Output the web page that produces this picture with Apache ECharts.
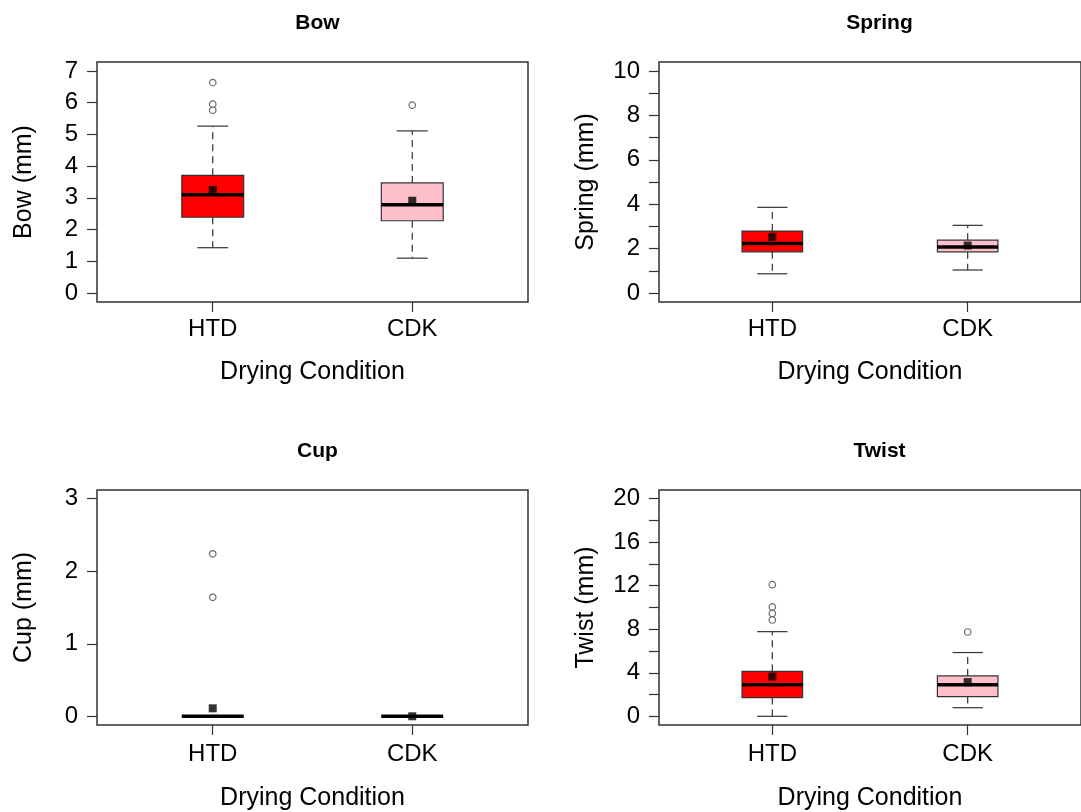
<!DOCTYPE html>
<html>
<head>
<meta charset="utf-8">
<title>Drying condition boxplots</title>
<script src="https://cdn.jsdelivr.net/npm/echarts@6/dist/echarts.min.js"></script>
<style>
  html, body { margin: 0; padding: 0; background: #fff; }
  #chart { width: 1081px; height: 812px; }
</style>
</head>
<body>
<div id="chart"></div>
<script>
// groups on the x axis (positions 1 and 2)
const groups = ['HTD', 'CDK'];
const boxFills = ['#ff0000', '#ffc0cb'];

// box stats per group: [lower whisker, Q1, median, Q3, upper whisker]
const bowStats = [[1.43, 2.39, 3.10, 3.71, 5.26], [1.10, 2.28, 2.78, 3.47, 5.11]];
const bowMeans = [3.25, 2.91];
const bowOutliers = [[6.63, 5.95, 5.76], [5.92]];

const springStats = [[0.87, 1.86, 2.23, 2.79, 3.86], [1.04, 1.86, 2.08, 2.38, 3.05]];
const springMeans = [2.53, 2.14];
const springOutliers = [[], []];

const cupStats = [[0, 0, 0, 0, 0], [0, 0, 0, 0, 0]];
const cupMeans = [0.11, 0.0];
const cupOutliers = [[2.24, 1.64], []];

const twistStats = [[0, 1.72, 2.90, 4.13, 7.78], [0.79, 1.81, 2.90, 3.71, 5.86]];
const twistMeans = [3.65, 3.14];
const twistOutliers = [[12.1, 10.05, 9.45, 8.85], [7.75]];

// y ticks / labels
const bowTicks = [0, 1, 2, 3, 4, 5, 6, 7];
const bowLabels = [0, 1, 2, 3, 4, 5, 6, 7];
const springTicks = [0, 1, 2, 3, 4, 5, 6, 7, 8, 9, 10];
const springLabels = [0, 2, 4, 6, 8, 10];
const cupTicks = [0, 1, 2, 3];
const cupLabels = [0, 1, 2, 3];
const twistTicks = [0, 2, 4, 6, 8, 10, 12, 14, 16, 18, 20];
const twistLabels = [0, 4, 8, 12, 16, 20];

const FONT = '"Liberation Sans", Arial, sans-serif';
const INK = '#333';
const BOX_W = 0.31;   // in x units
const CAP_W = 0.155;

// right column runs past the edge of the picture (cropped original)
const panels = [
  { title: 'Bow', yName: 'Bow (mm)', stats: bowStats, means: bowMeans, outliers: bowOutliers,
    ticks: bowTicks, labels: bowLabels, yMin: -0.28, yMax: 7.28,
    grid: { left: 97, top: 62, width: 431, height: 240 }, titleY: 8, lblMargin: 15, nameGap: 58 },
  { title: 'Spring', yName: 'Spring (mm)', stats: springStats, means: springMeans, outliers: springOutliers,
    ticks: springTicks, labels: springLabels, yMin: -0.4, yMax: 10.4,
    grid: { left: 659, top: 62, width: 431, height: 240 }, titleY: 8, lblMargin: 15, nameGap: 58 },
  { title: 'Cup', yName: 'Cup (mm)', stats: cupStats, means: cupMeans, outliers: cupOutliers,
    ticks: cupTicks, labels: cupLabels, yMin: -0.12, yMax: 3.12,
    grid: { left: 97, top: 490, width: 431, height: 238 }, titleY: 436, lblMargin: 17, nameGap: 61 },
  { title: 'Twist', yName: 'Twist (mm)', stats: twistStats, means: twistMeans, outliers: twistOutliers,
    ticks: twistTicks, labels: twistLabels, yMin: -0.8, yMax: 20.8,
    grid: { left: 659, top: 490, width: 431, height: 238 }, titleY: 436, lblMargin: 17, nameGap: 61 }
];

function renderBox(params, api) {
  const x = api.value(0);
  const lo = api.coord([x, api.value(1)]);
  const q1 = api.coord([x, api.value(2)]);
  const med = api.coord([x, api.value(3)]);
  const q3 = api.coord([x, api.value(4)]);
  const hi = api.coord([x, api.value(5)]);
  const half = api.size([BOX_W, 0])[0] / 2;
  const capHalf = api.size([CAP_W, 0])[0] / 2;
  const cx = q1[0];
  const dashed = { stroke: INK, lineWidth: 1.2, lineDash: [7, 5] };
  const solid = { stroke: INK, lineWidth: 1.2 };
  return {
    type: 'group',
    children: [
      { type: 'line', shape: { x1: cx, y1: q3[1], x2: cx, y2: hi[1] }, style: dashed },
      { type: 'line', shape: { x1: cx, y1: q1[1], x2: cx, y2: lo[1] }, style: dashed },
      { type: 'line', shape: { x1: cx - capHalf, y1: hi[1], x2: cx + capHalf, y2: hi[1] }, style: solid },
      { type: 'line', shape: { x1: cx - capHalf, y1: lo[1], x2: cx + capHalf, y2: lo[1] }, style: solid },
      { type: 'rect', shape: { x: cx - half, y: q3[1], width: half * 2, height: q1[1] - q3[1] },
        style: { fill: boxFills[params.dataIndex], stroke: INK, lineWidth: 1.2 } },
      { type: 'line', shape: { x1: cx - half, y1: med[1], x2: cx + half, y2: med[1] },
        style: { stroke: '#000', lineWidth: 3.5 } }
    ]
  };
}

const grid = [], xAxis = [], yAxis = [], series = [], title = [];

panels.forEach((p, i) => {
  grid.push(Object.assign({ show: true, borderColor: INK, borderWidth: 1.5, backgroundColor: 'transparent' }, p.grid));
  title.push({
    text: p.title, left: p.grid.left + p.grid.width / 2, top: p.titleY, textAlign: 'center',
    textStyle: { fontFamily: FONT, fontWeight: 'bold', fontSize: 21, color: '#000' }
  });
  xAxis.push({
    type: 'value', gridIndex: i, min: 0.42, max: 2.58,
    name: 'Drying Condition', nameLocation: 'middle', nameGap: p.nameGap,
    nameTextStyle: { fontFamily: FONT, fontSize: 25, color: '#000' },
    axisLine: { show: false, onZero: false },
    splitLine: { show: false },
    axisTick: { show: true, length: 10, customValues: [1, 2], lineStyle: { color: INK, width: 1.2 } },
    axisLabel: { customValues: [1, 2], margin: p.lblMargin, fontFamily: FONT, fontSize: 24, color: '#000',
      formatter: v => groups[Math.round(v) - 1] }
  });
  yAxis.push({
    type: 'value', gridIndex: i, min: p.yMin, max: p.yMax,
    name: p.yName, nameLocation: 'middle', nameGap: 60,
    nameTextStyle: { fontFamily: FONT, fontSize: 25, color: '#000' },
    axisLine: { show: false, onZero: false },
    splitLine: { show: false },
    axisTick: { show: true, length: 10, customValues: p.ticks, lineStyle: { color: INK, width: 1.2 } },
    axisLabel: { customValues: p.labels, margin: 19, fontFamily: FONT, fontSize: 24, color: '#000' }
  });
  series.push({
    type: 'custom', xAxisIndex: i, yAxisIndex: i, renderItem: renderBox, silent: true,
    data: p.stats.map((s, g) => [g + 1].concat(s))
  });
  const outPts = [];
  p.outliers.forEach((vals, g) => vals.forEach(v => outPts.push([g + 1, v])));
  series.push({
    type: 'scatter', xAxisIndex: i, yAxisIndex: i, silent: true, z: 5,
    symbol: 'circle', symbolSize: 6.5,
    itemStyle: { color: '#fff', borderColor: '#444', borderWidth: 1.2 },
    data: outPts
  });
  series.push({
    type: 'scatter', xAxisIndex: i, yAxisIndex: i, silent: true, z: 6,
    symbol: 'rect', symbolSize: 8,
    itemStyle: { color: '#000' },
    data: p.means.map((m, g) => [g + 1, m])
  });
});

const chart = echarts.init(document.getElementById('chart'), null, { renderer: 'canvas' });
chart.setOption({
  animation: false,
  backgroundColor: '#fff',
  title: title,
  grid: grid,
  xAxis: xAxis,
  yAxis: yAxis,
  series: series
});
</script>
</body>
</html>
